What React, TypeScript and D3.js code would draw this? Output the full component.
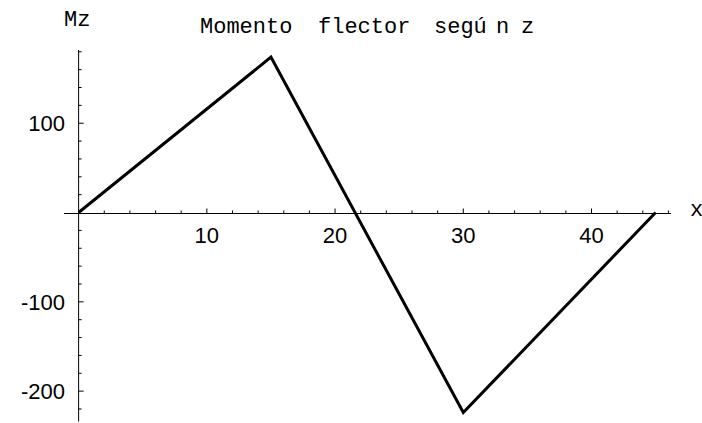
import React from 'react';
import * as d3 from 'd3';

// momento flector Mz a lo largo de x
const xs = [0, 15, 30, 45];
const mz = [0, 174, -224, 0];

const xTickLabels = [10, 20, 30, 40];
const yTickLabels = [-200, -100, 100];

const titleWords = ['Momento', 'flector', 'segú', 'n', 'z'];
const titleX = [200, 318, 434, 496, 521];

const W = 702, H = 423;

const App = () => {
  const x = d3.scaleLinear().domain([-1.14, 46.2]).range([64, 671]);
  const y = d3.scaleLinear().domain([-234, 182]).range([421.5, 50]);

  const pts: [number, number][] = xs.map((v, i) => [v, mz[i]]);
  const line = d3.line<[number, number]>()
    .x(d => x(d[0]))
    .y(d => y(d[1]));

  const x0 = x(0), y0 = Math.round(y(0)) + 0.5;

  const xMinor = d3.range(2, 47, 2).filter(v => v % 10 !== 0);
  const yMinor = d3.range(-220, 181, 20).filter(v => v % 100 !== 0);

  return (
    <svg width={W} height={H} style={{ position: 'absolute', left: 0, top: 0, background: '#fff' }}>
      <text y={33} fontFamily="Liberation Mono" fontSize={22}>
        {titleWords.map((w, i) => <tspan key={w} x={titleX[i]}>{w}</tspan>)}
      </text>
      <text x={64} y={26} fontFamily="Liberation Mono" fontSize={22}>Mz</text>
      <text x={690} y={216} fontFamily="Liberation Mono" fontSize={22}>x</text>

      {/* eje x */}
      <line x1={64} x2={671} y1={y0} y2={y0} stroke="#000" strokeWidth={1} />
      {xMinor.map(v => (
        <line key={'xm' + v} x1={x(v)} x2={x(v)} y1={y0} y2={y0 - 3} stroke="#000" strokeWidth={1} />
      ))}
      {xTickLabels.map(v => (
        <g key={'xt' + v}>
          <line x1={x(v)} x2={x(v)} y1={y0} y2={y0 - 5} stroke="#000" strokeWidth={1} />
          <text x={x(v)} y={243} textAnchor="middle" fontFamily="Liberation Sans" fontSize={22}>{v}</text>
        </g>
      ))}

      {/* eje y */}
      <line x1={x0} x2={x0} y1={50} y2={421.5} stroke="#000" strokeWidth={1} />
      {yMinor.map(v => (
        <line key={'ym' + v} x1={x0} x2={x0 + 3} y1={y(v)} y2={y(v)} stroke="#000" strokeWidth={1} />
      ))}
      {yTickLabels.map(v => (
        <g key={'yt' + v}>
          <line x1={x0} x2={x0 + 5} y1={y(v)} y2={y(v)} stroke="#000" strokeWidth={1} />
          <text x={65} y={y(v)} dy="0.36em" textAnchor="end" fontFamily="Liberation Sans" fontSize={22}>
            {v < 0 ? '-' + Math.abs(v) : v}
          </text>
        </g>
      ))}

      <path d={line(pts) ?? ''} fill="none" stroke="#000" strokeWidth={3} strokeLinejoin="miter" />
    </svg>
  );
};

export default App;
